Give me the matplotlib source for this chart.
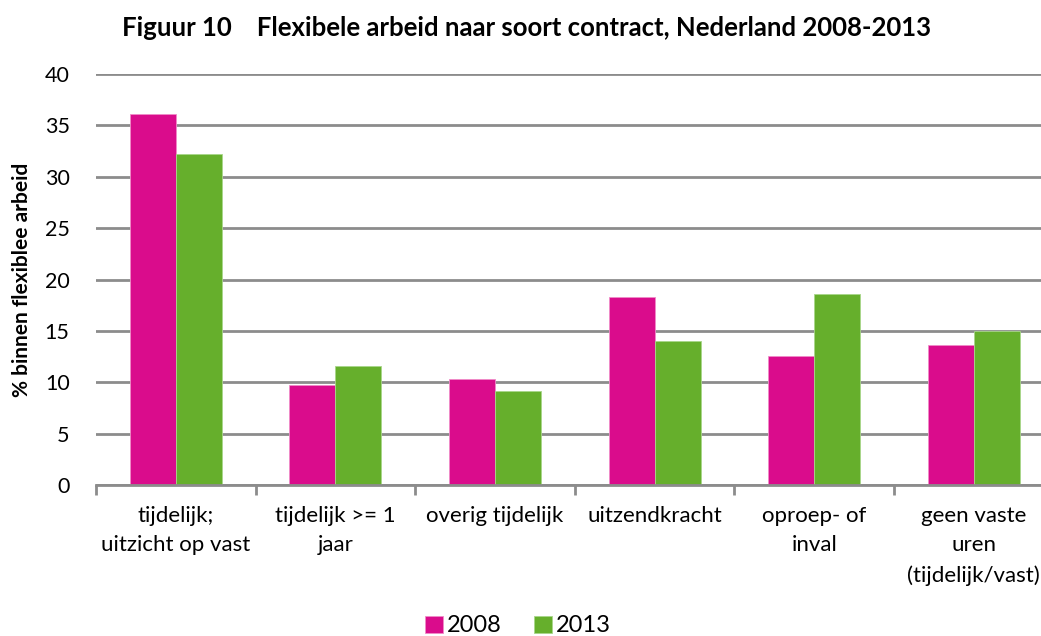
import matplotlib
matplotlib.use("Agg")
import matplotlib.pyplot as plt
import numpy as np

categories = ["tijdelijk;\nuitzicht op vast", "tijdelijk >= 1\njaar", "overig tijdelijk",
              "uitzendkracht", "oproep- of\ninval", "geen vaste\nuren\n(tijdelijk/vast)"]
values_2008 = [36.1, 9.7, 10.3, 18.3, 12.6, 13.6]
values_2013 = [32.2, 11.6, 9.1, 14.0, 18.6, 15.0]
series_labels = ["2008", "2013"]
yticks = [0, 5, 10, 15, 20, 25, 30, 35, 40]

FONT = "Lato"
c2008 = "#DA0C8C"
c2013 = "#66AF2C"
grid_c = "#8C8C8C"

W, H = 1041, 636
fig = plt.figure(figsize=(W / 100, H / 100), dpi=100)
left, right = 96, 96 + 6 * 159.6
bottom, top = 485, 74
ax = fig.add_axes([left / W, 1 - bottom / H, (right - left) / W, (bottom - top) / H])

x = np.arange(len(categories))
bw = 0.288
ax.bar(x - bw / 2, values_2008, bw, color=c2008, edgecolor="#F08CC8", linewidth=0.6,
       label=series_labels[0], zorder=3)
ax.bar(x + bw / 2, values_2013, bw, color=c2013, edgecolor="#A8D68A", linewidth=0.6,
       label=series_labels[1], zorder=3)

ax.set_xlim(-0.5, len(categories) - 0.5)
ax.set_ylim(0, 40)
ax.set_yticks(yticks)
ax.set_yticklabels([str(t) for t in yticks], fontsize=15.5, family=FONT)
ax.yaxis.grid(True, color=grid_c, linewidth=2, zorder=0)
ax.set_axisbelow(True)

ax.set_xticks(x)
ax.set_xticklabels(categories, fontsize=16, family=FONT, linespacing=1.6, va="top")
ax.set_xticks(np.arange(len(categories) + 1) - 0.5, minor=True)
ax.tick_params(axis="x", which="major", length=0, pad=15)
ax.tick_params(axis="x", which="minor", length=7, width=2, color=grid_c, direction="out")
ax.tick_params(axis="y", length=0, pad=19)

for s in ["top", "right", "left"]:
    ax.spines[s].set_visible(False)
ax.spines["bottom"].set_color(grid_c)
ax.spines["bottom"].set_linewidth(2)
ax.spines["bottom"].set_zorder(4)

ax.set_ylabel("% binnen flexiblee arbeid", fontsize=15, fontweight="bold", family=FONT)
ax.yaxis.set_label_coords((22 - left) / (right - left), 0.5)
ax.yaxis.label.set_va("center")

fig.text(527 / W, 1 - 28 / H, "Figuur 10    Flexibele arbeid naar soort contract, Nederland 2008-2013",
         ha="center", va="center", fontsize=18.5, fontweight="bold", family=FONT)

leg = fig.legend(loc="center", bbox_to_anchor=(518 / W, 1 - 626 / H), ncol=2, frameon=False,
                 prop={"family": FONT, "size": 17}, handlelength=0.75, handleheight=0.75,
                 handletextpad=0.15, columnspacing=1.4)

fig.savefig("out.png", dpi=100)
